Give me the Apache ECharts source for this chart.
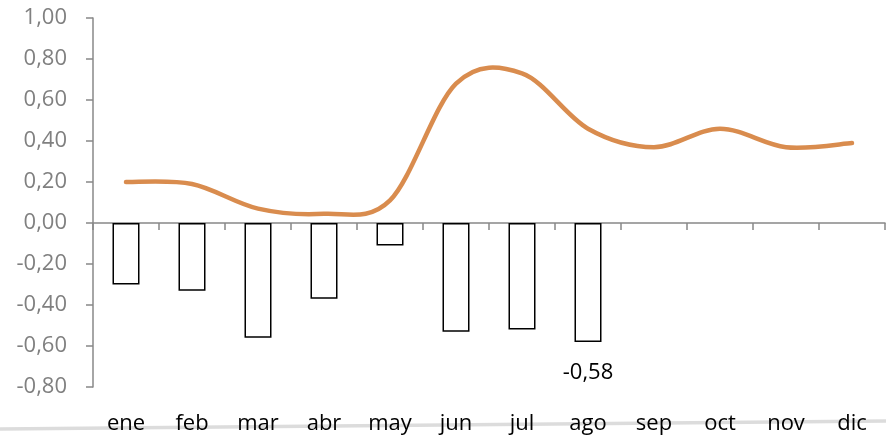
<!DOCTYPE html>
<html style="height: 100%">
<head>
    <meta charset="utf-8">
</head>
<body style="height: 100%; margin: 0; background: #fff">
<div id="container" style="width: 886px; height: 436px"></div>
<script type="text/javascript" src="https://cdn.jsdelivr.net/npm/echarts@6/dist/echarts.min.js"></script>
<script type="text/javascript">
    var meses = ['ene', 'feb', 'mar', 'abr', 'may', 'jun', 'jul', 'ago', 'sep', 'oct', 'nov', 'dic'];
    var barras = [-0.30, -0.33, -0.56, -0.37, -0.11, -0.53, -0.52, -0.58, null, null, null, null];
    var linea = [0.20, 0.19, 0.07, 0.045, 0.11, 0.68, 0.73, 0.46, 0.37, 0.46, 0.37, 0.39];

    var fmt = function (v) { return v.toFixed(2).replace('.', ','); };

    // curva suavizada tipo Excel (catmull-rom), pasando por los puntos del eje
    function renderLinea(params, api) {
        if (params.dataIndex !== 0) return null;
        var pts = linea.map(function (v, i) { return api.coord([i, v]); });
        var n = pts.length;
        var d = 'M' + pts[0][0] + ',' + pts[0][1];
        for (var i = 0; i < n - 1; i++) {
            var p0 = pts[Math.max(i - 1, 0)], p1 = pts[i], p2 = pts[i + 1], p3 = pts[Math.min(i + 2, n - 1)];
            var c1x = p1[0] + (p2[0] - p0[0]) / 6, c1y = p1[1] + (p2[1] - p0[1]) / 6;
            var c2x = p2[0] - (p3[0] - p1[0]) / 6, c2y = p2[1] - (p3[1] - p1[1]) / 6;
            d += 'C' + c1x + ',' + c1y + ',' + c2x + ',' + c2y + ',' + p2[0] + ',' + p2[1];
        }
        return {
            type: 'path',
            shape: {pathData: d},
            style: {stroke: '#D98C4E', lineWidth: 4.5, fill: null, lineCap: 'round', lineJoin: 'round'}
        };
    }

    var dom = document.getElementById("container");
    var myChart = echarts.init(dom);
    var option = {
        backgroundColor: '#fff',
        animation: false,
        grid: {left: 93, right: 1, top: 18, bottom: 49},
        graphic: [{
            type: 'line',
            shape: {x1: 0, y1: 429, x2: 886, y2: 421},
            style: {stroke: '#dcdcdc', lineWidth: 3.5},
            z: -1
        }],
        xAxis: [{
            type: 'category',
            data: meses,
            axisLine: {onZero: true, lineStyle: {color: '#888', width: 1.5}},
            axisTick: {show: true, inside: false, length: 7, lineStyle: {color: '#888', width: 1.5}},
            axisLabel: {show: false}
        }, {
            type: 'category',
            data: meses,
            position: 'bottom',
            axisLine: {show: false},
            axisTick: {show: false},
            axisLabel: {color: '#000', fontSize: 22, fontFamily: 'Open Sans', margin: 26}
        }],
        yAxis: {
            type: 'value',
            min: -0.8,
            max: 1.0,
            interval: 0.2,
            splitLine: {show: false},
            axisLine: {show: true, lineStyle: {color: '#888', width: 1.5}},
            axisTick: {show: true, length: 7, lineStyle: {color: '#888', width: 1.5}},
            axisLabel: {
                color: '#808080', fontSize: 22, fontFamily: 'Open Sans', margin: 26,
                formatter: function (v) { return fmt(Math.round(v * 100) / 100); }
            }
        },
        series: [{
            type: 'bar',
            data: barras,
            barWidth: 27,
            itemStyle: {color: '#fff', borderColor: '#000', borderWidth: 1.5},
            label: {
                show: true,
                position: 'bottom',
                distance: 20,
                color: '#000',
                fontSize: 22,
                fontFamily: 'Open Sans',
                formatter: function (p) { return p.dataIndex === 7 ? fmt(p.value) : ''; }
            }
        }, {
            type: 'custom',
            data: linea.map(function (v, i) { return [i, v]; }),
            renderItem: renderLinea,
            z: 3
        }]
    };
    myChart.setOption(option, true);
</script>
</body>
</html>
